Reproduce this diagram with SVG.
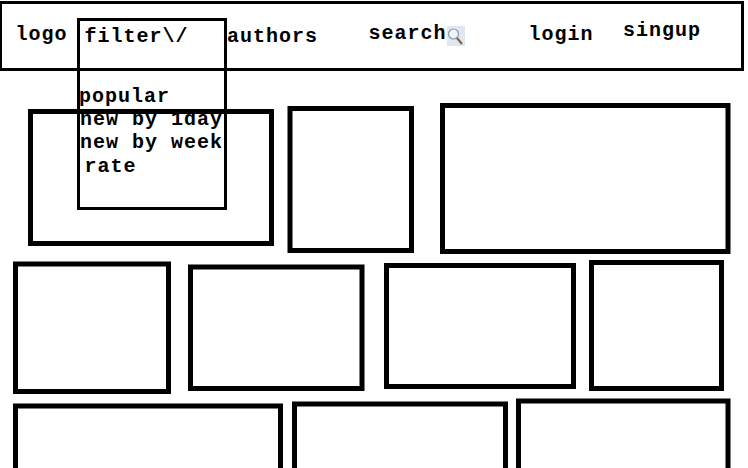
<svg xmlns="http://www.w3.org/2000/svg" width="748" height="468" viewBox="0 0 748 468">
<style>
.b{fill:none;stroke:#000;stroke-width:5}
.t{fill:none;stroke:#000;stroke-width:3}
text{font-family:"Liberation Mono",monospace;font-weight:bold;font-size:20px;letter-spacing:1px;fill:#000}
</style>
<rect width="748" height="468" fill="#fff"/>
<g id="header"><rect class="t" x="0.5" y="2.5" width="742" height="67"/></g>
<g id="card1"><rect class="b" x="30.5" y="111.5" width="241" height="132"/></g>
<g id="card2"><rect class="b" x="290" y="108.5" width="121.5" height="142"/></g>
<g id="card3"><rect class="b" x="442.5" y="105.5" width="285.5" height="146"/></g>
<g id="card4"><rect class="b" x="15.5" y="264" width="153" height="127.5"/></g>
<g id="card5"><rect class="b" x="190.5" y="267" width="171.5" height="121.5"/></g>
<g id="card6"><rect class="b" x="386.5" y="265.5" width="187" height="121"/></g>
<g id="card7"><rect class="b" x="591.5" y="262.5" width="130" height="126"/></g>
<g id="card8"><rect class="b" x="15.5" y="406" width="265" height="70"/></g>
<g id="card9"><rect class="b" x="294.5" y="404" width="211" height="72"/></g>
<g id="card10"><rect class="b" x="518.5" y="401" width="209.5" height="75"/></g>
<g id="filter-menu">
<rect class="t" x="78.5" y="19.5" width="147" height="189"/>
<text x="84.5" y="42">filter\/</text>
<text x="79" y="102">popular</text>
<text x="80" y="125">new by 1day</text>
<text x="80" y="148">new by week</text>
<text x="84.5" y="172">rate</text>
</g>
<g id="logo"><text x="15.5" y="40">logo</text></g>
<g id="authors"><text x="227" y="42">authors</text></g>
<g id="search">
<rect x="447" y="26" width="18" height="20" fill="#dfe8f0"/>
<circle cx="453.5" cy="34" r="5" fill="#eef4f8" stroke="#8a9aa5" stroke-width="1.2"/>
<line x1="457" y1="38" x2="462" y2="44" stroke="#8a5a3a" stroke-width="2"/>
<text x="368.5" y="39">search</text>
</g>
<g id="login"><text x="528.5" y="40">login</text></g>
<g id="singup"><text x="623" y="36">singup</text></g>
</svg>
